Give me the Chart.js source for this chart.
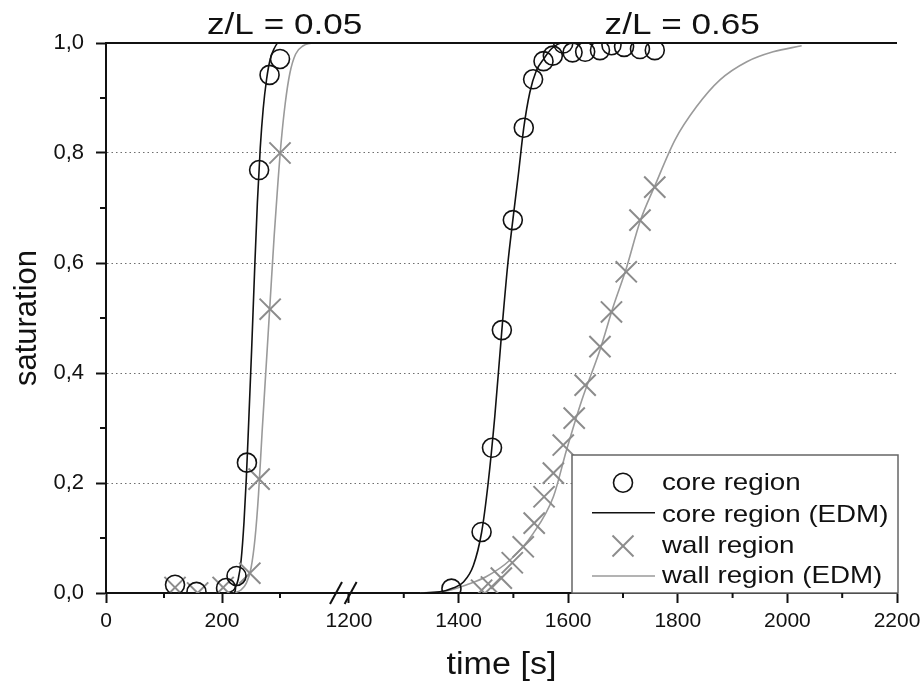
<!DOCTYPE html>
<html>
<head>
<meta charset="UTF-8">
<title>saturation vs time</title>
<script src="https://cdn.jsdelivr.net/npm/chart.js@4"></script>
<style>
  body { margin: 0; background: #fff; }
  canvas { display: block; }
</style>
</head>
<body>
<canvas id="sat_chart" width="923" height="686"></canvas>
<script>
// --- z/L = 0.05 (left part of the broken time axis) ---
var coreTime1 = [119, 156, 207, 225, 243, 264, 282, 300];
var coreSat1  = [0.015, 0.002, 0.009, 0.031, 0.237, 0.769, 0.942, 0.971];
var wallTime1 = [119, 158, 202, 248, 264, 283, 300];
var wallSat1  = [0.010, 0.000, 0.010, 0.036, 0.207, 0.516, 0.800];
var coreEdmTime1 = [200, 215, 222, 228, 233, 238, 242, 246, 251, 256, 261, 266, 271, 277, 283, 290, 297, 400];
var coreEdmSat1  = [0, 0.002, 0.008, 0.025, 0.06, 0.13, 0.21, 0.31, 0.44, 0.58, 0.71, 0.81, 0.88, 0.935, 0.97, 0.99, 1.0, 1.0];
var wallEdmTime1 = [220, 232, 242, 250, 257, 263, 269, 276, 283, 290, 296, 302, 309, 317, 327, 340, 360, 400];
var wallEdmSat1  = [0, 0.005, 0.018, 0.045, 0.1, 0.18, 0.29, 0.41, 0.53, 0.65, 0.74, 0.82, 0.89, 0.945, 0.98, 0.995, 1.0, 1.0];

// --- z/L = 0.65 (right part) ---
var coreTime2 = [1387, 1442, 1461, 1479, 1499, 1519, 1536, 1555, 1572, 1591, 1608, 1631, 1658, 1679, 1702, 1731, 1758];
var coreSat2  = [0.008, 0.111, 0.264, 0.478, 0.678, 0.846, 0.934, 0.967, 0.977, 0.999, 0.983, 0.984, 0.987, 0.996, 0.993, 0.989, 0.987];
var wallTime2 = [1442, 1460, 1478, 1498, 1518, 1538, 1556, 1573, 1591, 1611, 1631, 1658, 1679, 1706, 1731, 1758];
var wallSat2  = [0.005, 0.011, 0.027, 0.055, 0.084, 0.127, 0.175, 0.218, 0.269, 0.318, 0.378, 0.448, 0.511, 0.584, 0.678, 0.738];
var coreEdmTime2 = [1330, 1366, 1390, 1409, 1427, 1442, 1454, 1466, 1479, 1490, 1499, 1509, 1519, 1530, 1542, 1556, 1570, 1590, 1750];
var coreEdmSat2  = [0, 0.002, 0.009, 0.02, 0.05, 0.11, 0.2, 0.32, 0.478, 0.6, 0.678, 0.76, 0.846, 0.91, 0.95, 0.972, 0.99, 1.0, 1.0];
var wallEdmTime2 = [1330, 1380, 1415, 1451, 1494, 1536, 1573, 1597, 1625, 1658, 1682, 1706, 1731, 1758, 1795, 1834, 1877, 1926, 1974, 2026];
var wallEdmSat2  = [0, 0.004, 0.015, 0.03, 0.06, 0.108, 0.175, 0.26, 0.351, 0.442, 0.52, 0.59, 0.675, 0.74, 0.824, 0.884, 0.933, 0.966, 0.984, 0.995];

var seriesNames = ['core region', 'core region (EDM)', 'wall region', 'wall region (EDM)'];
var panelTitles = ['z/L = 0.05', 'z/L = 0.65'];

// ticks
var xMajor1 = [0, 200];
var xMinor1 = [100, 300];
var xMajor2 = [1200, 1400, 1600, 1800, 2000, 2200];
var xMinor2 = [1300, 1500, 1700, 1900, 2100];
var yMajor = [0, 0.2, 0.4, 0.6, 0.8, 1.0];
var yMinor = [0.1, 0.3, 0.5, 0.7, 0.9];

var FONT = '"Liberation Sans", Arial, sans-serif';
var INK = '#111';
var GREY_MARK = '#8c8c8c';
var GREY_LINE = '#9a9a9a';

function pts(ts, ss) {
    return ts.map(function (t, i) { return {x: t, y: ss[i]}; });
}

function circles(ts, ss, axis) {
    return {label: seriesNames[0], xAxisID: axis, data: pts(ts, ss), showLine: false,
        pointStyle: 'circle', pointRadius: 9.5, pointBorderWidth: 1.6,
        pointBorderColor: INK, pointBackgroundColor: 'rgba(0,0,0,0)', order: 1};
}
function crosses(ts, ss, axis) {
    return {label: seriesNames[2], xAxisID: axis, data: pts(ts, ss), showLine: false,
        pointStyle: 'crossRot', pointRadius: 15, pointBorderWidth: 2,
        pointBorderColor: GREY_MARK, order: 2};
}
function curve(ts, ss, axis, name, color) {
    return {label: name, xAxisID: axis, data: pts(ts, ss), showLine: true,
        borderColor: color, borderWidth: 1.6, pointRadius: 0,
        cubicInterpolationMode: 'monotone', order: 3};
}

function drawText(ctx, text, x, y, size, sx, align) {
    ctx.save();
    ctx.font = size + 'px ' + FONT;
    ctx.fillStyle = INK;
    ctx.textBaseline = 'alphabetic';
    ctx.textAlign = align || 'center';
    ctx.translate(x, y);
    ctx.scale(sx, 1);
    ctx.fillText(text, 0, 0);
    ctx.restore();
}

function line(ctx, x1, y1, x2, y2, color, w) {
    ctx.save();
    ctx.strokeStyle = color;
    ctx.lineWidth = w;
    ctx.beginPath();
    ctx.moveTo(x1, y1);
    ctx.lineTo(x2, y2);
    ctx.stroke();
    ctx.restore();
}

// frame, minor ticks, axis break, titles and the boxed legend
var decorations = {
    id: 'decorations',
    afterDatasetsDraw: function (chart) {
        var ctx = chart.ctx, a = chart.chartArea;
        // legend box
        var w = 326, h = 138;
        var left = a.right + 1 - w, top = a.bottom - h;
        ctx.save();
        ctx.fillStyle = '#fff';
        ctx.fillRect(left, top, w, h);
        ctx.strokeStyle = '#666';
        ctx.lineWidth = 1.5;
        ctx.strokeRect(left, top, w, h);
        ctx.restore();
        var mx = left + 51;
        // circle
        ctx.save();
        ctx.strokeStyle = INK; ctx.lineWidth = 1.6;
        ctx.beginPath(); ctx.arc(mx, top + 27.7, 9.5, 0, Math.PI * 2); ctx.stroke();
        ctx.restore();
        line(ctx, left + 20, top + 57.7, left + 83, top + 57.7, INK, 1.6);
        line(ctx, mx - 10.5, top + 91 - 10.5, mx + 10.5, top + 91 + 10.5, GREY_MARK, 2);
        line(ctx, mx - 10.5, top + 91 + 10.5, mx + 10.5, top + 91 - 10.5, GREY_MARK, 2);
        line(ctx, left + 20, top + 121, left + 83, top + 121, GREY_LINE, 1.6);
        var base = [35, 66.7, 98.3, 128.3];
        seriesNames.forEach(function (n, i) {
            drawText(ctx, n, left + 90, top + base[i], 24, 1.155, 'left');
        });
    },
    afterDraw: function (chart) {
        var ctx = chart.ctx, a = chart.chartArea, s = chart.scales;
        // top frame line at saturation 1.0
        line(ctx, a.left - 1, a.top, a.right, a.top, INK, 2);
        // minor ticks
        yMinor.forEach(function (v) {
            var py = s.y.getPixelForValue(v);
            line(ctx, a.left - 6, py, a.left, py, INK, 2);
        });
        xMinor1.forEach(function (v) {
            var px = s.x1.getPixelForValue(v);
            line(ctx, px, a.bottom, px, a.bottom + 5, INK, 2);
        });
        xMinor2.forEach(function (v) {
            var px = s.x2.getPixelForValue(v);
            line(ctx, px, a.bottom, px, a.bottom + 5, INK, 2);
        });
        // axis break marks
        var b1 = s.x1.right - 2, b2 = s.x2.getPixelForValue(1203);
        [b1, b2].forEach(function (bx) {
            line(ctx, bx - 6, a.bottom + 11, bx + 6, a.bottom - 11, INK, 2);
        });
        // panel titles
        drawText(ctx, panelTitles[0], s.x1.getPixelForValue(308), 34, 30, 1.17, 'center');
        drawText(ctx, panelTitles[1], s.x2.getPixelForValue(1808), 34, 30, 1.17, 'center');
        // axis titles
        drawText(ctx, 'time [s]', (a.left + a.right) / 2, 674, 31, 1.1, 'center');
        ctx.save();
        ctx.translate(36, (a.top + a.bottom) / 2);
        ctx.rotate(-Math.PI / 2);
        ctx.font = '31px ' + FONT;
        ctx.fillStyle = INK;
        ctx.textAlign = 'center';
        ctx.textBaseline = 'alphabetic';
        ctx.fillText('saturation', 0, 0);
        ctx.restore();
    }
};

function xAxis(min, max, weight, major) {
    return {
        type: 'linear', position: 'bottom', stack: 'time', stackWeight: weight,
        min: min, max: max,
        afterBuildTicks: function (axis) { axis.ticks = major.map(function (v) { return {value: v}; }); },
        afterFit: function (axis) {
            axis.height = 50;
            axis.paddingLeft = 0;
            axis.paddingRight = 0;
        },
        ticks: {autoSkip: false, maxRotation: 0, padding: 6, color: INK,
            font: {family: FONT, size: 21},
            callback: function (v) { return String(v); }},
        grid: {display: true, drawOnChartArea: false, color: 'rgba(0,0,0,0)',
            tickLength: 10, tickWidth: 2, tickColor: INK},
        border: {color: INK, width: 2}
    };
}

var ctx = document.getElementById('sat_chart').getContext('2d');
var chart = new Chart(ctx, {
    type: 'scatter',
    data: {
        datasets: [
            circles(coreTime1, coreSat1, 'x1'),
            curve(coreEdmTime1, coreEdmSat1, 'x1', seriesNames[1], INK),
            crosses(wallTime1, wallSat1, 'x1'),
            curve(wallEdmTime1, wallEdmSat1, 'x1', seriesNames[3], GREY_LINE),
            circles(coreTime2, coreSat2, 'x2'),
            curve(coreEdmTime2, coreEdmSat2, 'x2', seriesNames[1], INK),
            crosses(wallTime2, wallSat2, 'x2'),
            curve(wallEdmTime2, wallEdmSat2, 'x2', seriesNames[3], GREY_LINE)
        ]
    },
    options: {
        responsive: false,
        animation: false,
        layout: {padding: {left: 0, top: 43, right: 26, bottom: 43}},
        plugins: {legend: {display: false}, tooltip: {enabled: false}},
        scales: {
            x1: xAxis(0, 400, 232, xMajor1),
            x2: xAxis(1180, 2200, 559, xMajor2),
            y: {
                type: 'linear', position: 'left', min: 0, max: 1,
                afterBuildTicks: function (axis) { axis.ticks = yMajor.map(function (v) { return {value: v}; }); },
                afterFit: function (axis) {
                    axis.width = 106;
                    axis.paddingTop = 0;
                    axis.paddingBottom = 0;
                },
                ticks: {padding: 12, color: INK, font: {family: FONT, size: 22},
                    callback: function (v) { return v.toFixed(1).replace('.', ','); }},
                grid: {
                    color: function (c) {
                        return (c.tick && c.tick.value > 0 && c.tick.value < 1) ? '#6e6e6e' : 'rgba(0,0,0,0)';
                    },
                    lineWidth: 1, tickLength: 10, tickWidth: 2, tickColor: INK
                },
                border: {color: INK, width: 2, dash: [1.5, 3]}
            }
        }
    },
    plugins: [decorations]
});
</script>
</body>
</html>
